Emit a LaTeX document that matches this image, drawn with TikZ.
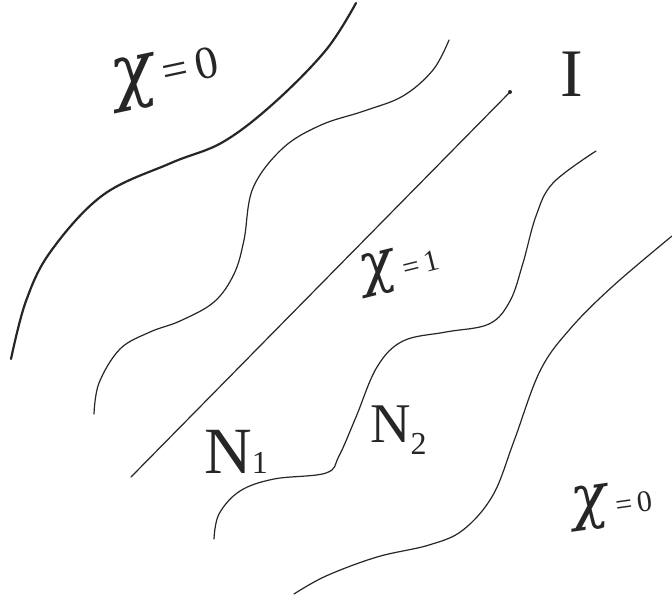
\documentclass[tikz,border=0pt]{standalone}
\usepackage{fontspec}
\setmainfont{Liberation Serif}
\newfontfamily\gkfont{DejaVu Serif}
\begin{document}
\begin{tikzpicture}[x=1pt,y=-1pt,
  thickline/.style={line width=2.2pt, line cap=round, line join=round, black!85},
  thinline/.style={line width=1.2pt, line cap=round, line join=round, black!85},
  lab/.style={inner sep=0pt, black!85}]
\useasboundingbox (0,0) rectangle (672,606);
\fill[white] (0,0) rectangle (672,606);
% boundary chi=0 (thick)
\draw[thickline] plot[smooth, tension=0.6] coordinates {(11,359) (26,301) (51,251) (103,195) (171,163) (223,142) (274,103) (326,50) (356,3)};
% wavy curve 2
\draw[thinline] plot[smooth, tension=0.6] coordinates {(94,414) (99,383) (120,349) (150,332) (180,321) (214,302) (234,274) (244,240) (253,188) (283,148) (321,125) (364,111) (403,96) (433,70) (449,40)};
% straight interface line with dot
\coordinate (la) at (131,477);
\coordinate (lb) at (510,92);
\draw[thinline] (la) -- (lb);
\fill[black!85] (lb) circle (2pt);
% curve 4
\draw[thinline] plot[smooth, tension=0.6] coordinates {(214,539) (219,514) (240,491) (274,479) (326,473) (339,456) (356,417) (377,367) (403,341) (446,332) (489,324) (510,301) (523,263) (536,216) (553,183) (596,151)};
% curve 5
\draw[thinline] plot[smooth, tension=0.6] coordinates {(294,594) (326,576) (377,557) (429,545) (463,530) (493,495) (514,441) (540,371) (570,329) (613,286) (672,236)};
% labels
\node[lab, rotate=12] (chiA) at (166,76) {\fontsize{72}{72}\selectfont{\gkfont\itshape χ}\hspace{8pt}\raisebox{0pt}{\fontsize{46}{46}\selectfont =\,0}};
\node[lab, rotate=14] (chiB) at (400,268) {\fontsize{58}{58}\selectfont{\gkfont\itshape χ}\hspace{7pt}\raisebox{-2pt}{\fontsize{30}{30}\selectfont =\,1}};
\node[lab, rotate=8] (chiC) at (612,505) {\fontsize{60}{60}\selectfont{\gkfont\itshape χ}\hspace{7pt}\raisebox{-2pt}{\fontsize{30}{30}\selectfont =\,0}};
\node[lab] (I) at (572,74) {\fontsize{68}{68}\selectfont I};
\node[lab, anchor=south west] (N1) at (204,474) {\fontsize{66}{66}\selectfont N\fontsize{32}{32}\selectfont 1};
\node[lab, anchor=south west] (N2) at (370,455) {\fontsize{56}{56}\selectfont N\raisebox{-12pt}{\fontsize{32}{32}\selectfont 2}};
\end{tikzpicture}
\end{document}
